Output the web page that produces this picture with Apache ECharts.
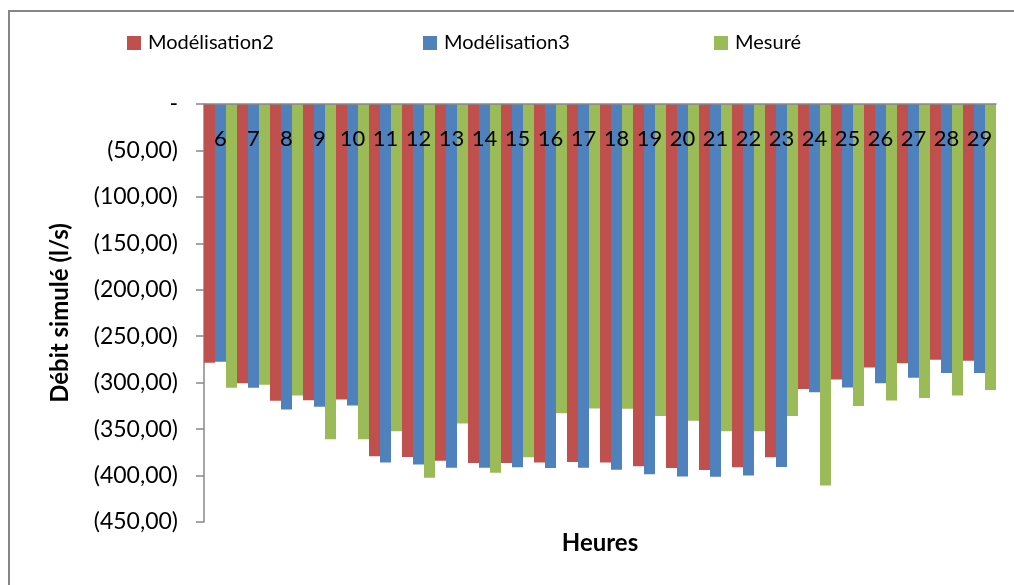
<!DOCTYPE html>
<html>
<head>
<meta charset="utf-8">
<script src="https://cdn.jsdelivr.net/npm/echarts@6/dist/echarts.min.js"></script>
<style>
html,body{margin:0;padding:0;background:#fff;}
#chart{width:1014px;height:585px;}
</style>
</head>
<body>
<div id="chart"></div>
<script>
const categories = ['6','7','8','9','10','11','12','13','14','15','16','17','18','19','20','21','22','23','24','25','26','27','28','29'];
const modelisation2 = [-278.6,-300.5,-319.6,-318.9,-318,-379.3,-380,-384,-386.5,-386.5,-386,-385.4,-386,-390,-392,-394,-391,-380.4,-306.7,-296.6,-283.6,-279,-275.4,-276.5];
const modelisation3 = [-277.5,-305.6,-329,-326,-324.7,-386,-388,-391.5,-391.5,-391,-392,-391.5,-393.7,-398.7,-401,-401.2,-400,-390.8,-310.2,-305.2,-300.5,-294.8,-289.7,-289.7];
const mesure = [-305.6,-302.3,-313.8,-361,-361,-352.3,-402.3,-344,-397,-380.4,-333,-327.9,-328,-335.8,-341,-352.3,-352.3,-335.8,-410.6,-325,-319.2,-316.4,-313.8,-308];
const seriesNames = ['Modélisation2','Modélisation3','Mesuré'];
const colors = ['#C0504D','#4F81BD','#9BBB59'];

const FONT = 'Lato, "Open Sans", sans-serif';
const chart = echarts.init(document.getElementById('chart'));

function fmt(v){
  if (v === 0) return '-';
  const a = Math.abs(v).toFixed(2).replace('.', ',');
  return v < 0 ? '(' + a + ')' : a;
}

const legendLefts = [127, 423, 714];
const data = [modelisation2, modelisation3, mesure];

chart.setOption({
  animation: false,
  backgroundColor: '#fff',
  textStyle: {fontFamily: FONT, color: '#000'},
  legend: seriesNames.map((n, i) => ({
    data: [n],
    left: legendLefts[i],
    top: 33,
    padding: 0,
    icon: 'rect',
    itemWidth: 14,
    itemHeight: 14,
    itemGap: 0,
    textStyle: {fontFamily: FONT, fontSize: 20, color: '#000', padding: [0,0,0,2]}
  })),
  grid: {left: 204, right: 18, top: 104, bottom: 63, containLabel: false},
  xAxis: {
    type: 'category',
    data: categories,
    position: 'top',
    z: 10,
    axisLine: {show: true, lineStyle: {color: '#888', width: 1.5}},
    axisTick: {show: false},
    axisLabel: {inside: true, margin: 24, fontFamily: FONT, fontSize: 22, color: '#000', interval: 0}
  },
  yAxis: {
    type: 'value',
    min: -450, max: 0, interval: 50,
    axisLine: {show: true, lineStyle: {color: '#888', width: 1.5}},
    axisTick: {show: true, length: 8, lineStyle: {color: '#888', width: 1.5}},
    splitLine: {show: false},
    axisLabel: {formatter: fmt, fontFamily: FONT, fontSize: 23, color: '#000', margin: 26},
    name: 'Débit simulé (l/s)',
    nameLocation: 'middle',
    nameRotate: 90,
    nameGap: 132,
    nameTextStyle: {fontFamily: FONT, fontSize: 24, fontWeight: 'bold', color: '#000'}
  },
  series: seriesNames.map((n, i) => ({
    name: n,
    type: 'bar',
    data: data[i],
    barGap: '0%',
    barCategoryGap: '0%',
    itemStyle: {color: colors[i]}
  })),
  graphic: [
    {type: 'rect', shape: {x: 9, y: 11, width: 1100, height: 700}, style: {fill: null, stroke: '#868686', lineWidth: 2}, z: -1},
    {type: 'text', x: 600, y: 543, style: {text: 'Heures', fontFamily: FONT, fontSize: 24, fontWeight: 'bold', fill: '#000', align: 'center', verticalAlign: 'middle'}}
  ]
});
</script>
</body>
</html>
